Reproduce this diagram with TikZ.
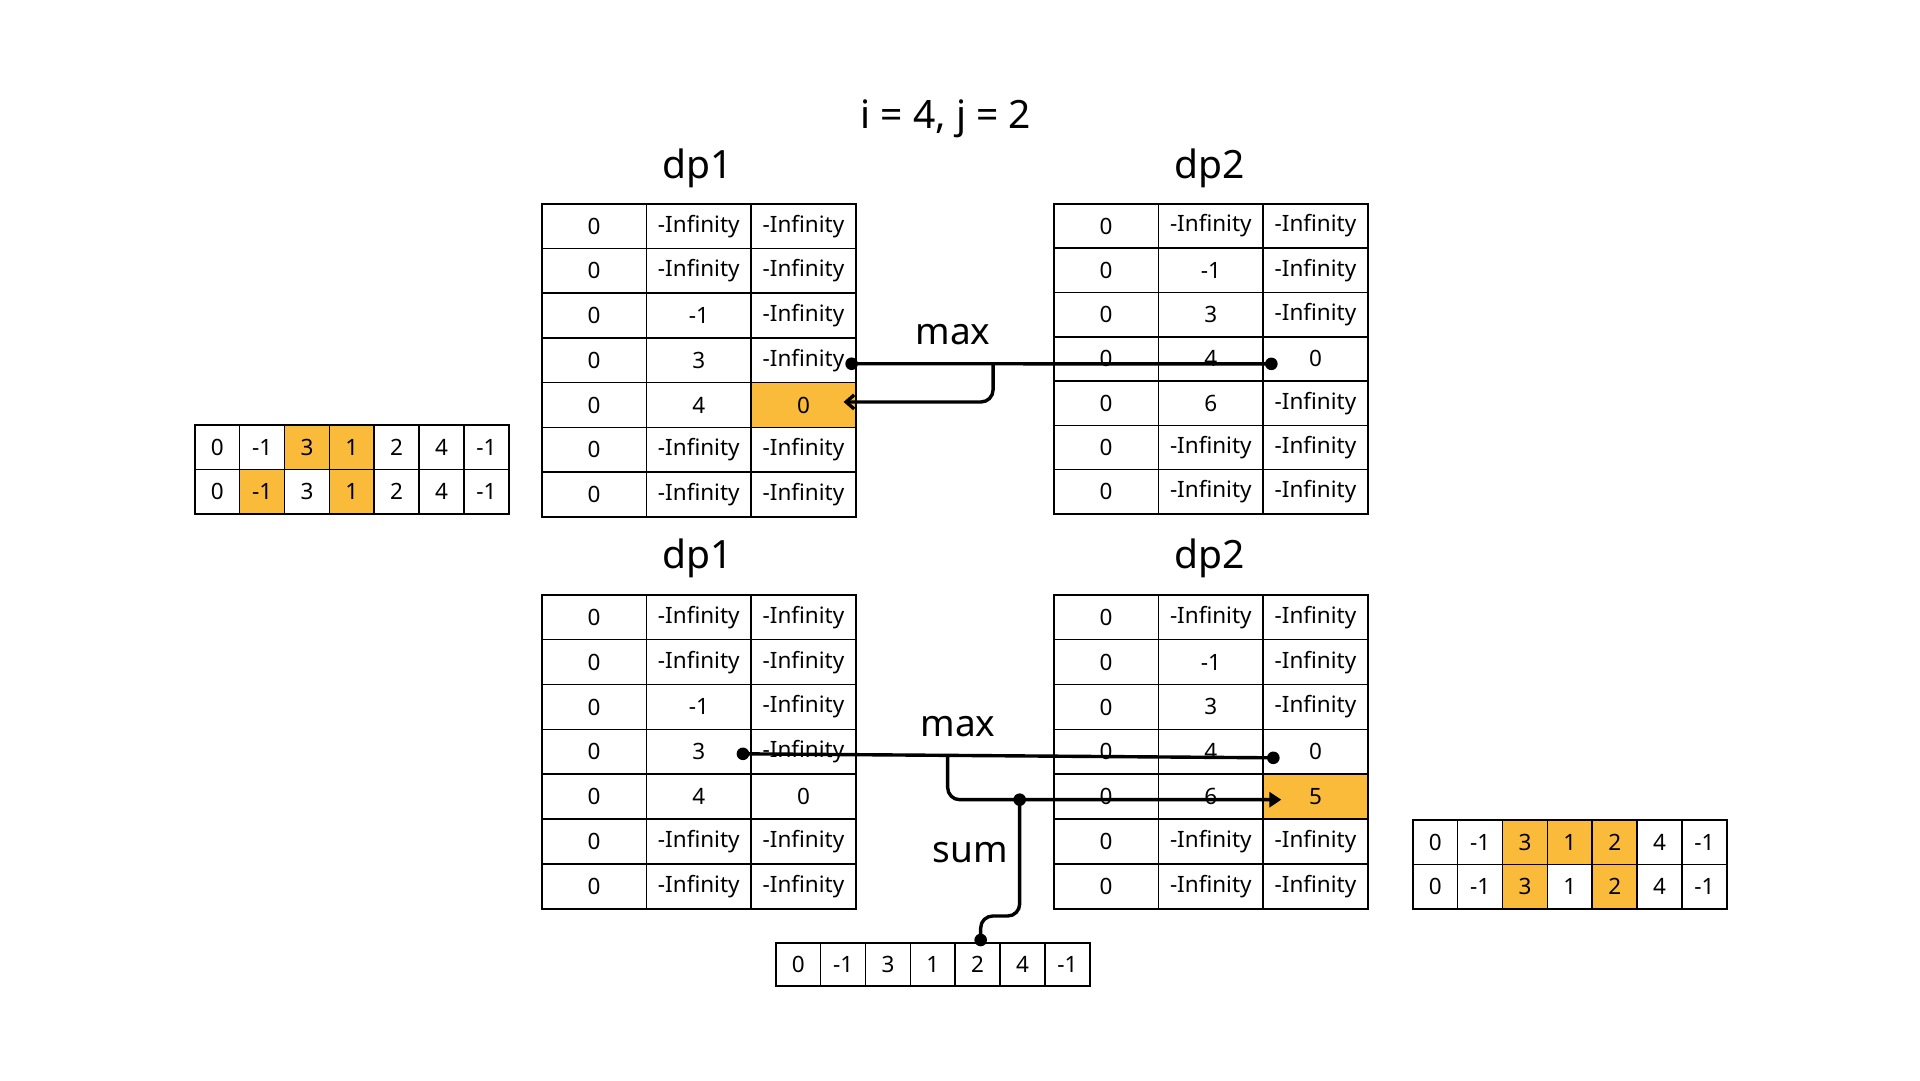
\documentclass[tikz,border=0pt]{standalone}
\usepackage{fontspec}
\setmainfont{Noto Sans}
\usetikzlibrary{arrows.meta,calc,backgrounds}
\definecolor{hl}{RGB}{251,187,58}
\tikzset{
  cell/.style={draw=black, line width=1.6pt, minimum width=104.67pt, inner sep=0pt, anchor=north west, font=\fontsize{22.5}{26}\selectfont},
  scell/.style={draw=black, line width=1.6pt, minimum width=44.86pt, inner sep=0pt, anchor=north west, font=\fontsize{22.5}{26}\selectfont},
  lbl/.style={inner sep=0pt, font=\fontsize{39}{46}\selectfont},
  opname/.style={inner sep=0pt, font=\fontsize{37}{44}\selectfont},
  conn/.style={line width=3.4pt, draw=black},
  dot/.style={fill=black},
}
\newcommand\dptable[5]{%
  \foreach \a/\b/\c [count=\r from 0] in {#5} {
    \node[cell, minimum height=#4] (#1-\r-0) at (#2, #3+\r*#4) {\a};
    \node[cell, minimum height=#4] (#1-\r-1) at (#2+104.67, #3+\r*#4) {\b};
    \node[cell, minimum height=#4] (#1-\r-2) at (#2+209.33, #3+\r*#4) {\c};
  }}
\newcommand\smallrow[5]{%
  \foreach \v [count=\k from 0] in {#5} {
    \node[scell, minimum height=#4] (#1-\k) at (#2+\k*44.86, #3) {\v};
  }}
\begin{document}
\begin{tikzpicture}[x=1pt, y=-1pt]
  \useasboundingbox (0,0) rectangle (1920,1080);

  % title and labels
  \node[lbl] (title) at (946,119) {i = 4, j = 2};
  \node[lbl] (L-dp1a) at (698,168) {dp1};
  \node[lbl] (L-dp2a) at (1210,168) {dp2};
  \node[lbl] (L-dp1b) at (698,558) {dp1};
  \node[lbl] (L-dp2b) at (1210,558) {dp2};

  % top tables
  \dptable{T1}{541}{203}{44.7}{0/-Infinity/-Infinity, 0/-Infinity/-Infinity, 0/-1/-Infinity, 0/3/-Infinity, 0/4/0, 0/-Infinity/-Infinity, 0/-Infinity/-Infinity}
  \dptable{U1}{1053}{203}{44.3}{0/-Infinity/-Infinity, 0/-1/-Infinity, 0/3/-Infinity, 0/4/0, 0/6/-Infinity, 0/-Infinity/-Infinity, 0/-Infinity/-Infinity}
  % bottom tables
  \dptable{B1}{541}{594}{44.86}{0/-Infinity/-Infinity, 0/-Infinity/-Infinity, 0/-1/-Infinity, 0/3/-Infinity, 0/4/0, 0/-Infinity/-Infinity, 0/-Infinity/-Infinity}
  \dptable{B2}{1053}{594}{44.86}{0/-Infinity/-Infinity, 0/-1/-Infinity, 0/3/-Infinity, 0/4/0, 0/6/5, 0/-Infinity/-Infinity, 0/-Infinity/-Infinity}

  % small arrays
  \smallrow{La}{194}{424}{44.5}{0,-1,3,1,2,4,-1}
  \smallrow{Lb}{194}{468.5}{44.5}{0,-1,3,1,2,4,-1}
  \smallrow{Ra}{1412}{819}{44.5}{0,-1,3,1,2,4,-1}
  \smallrow{Rb}{1412}{863.5}{44.5}{0,-1,3,1,2,4,-1}
  \smallrow{A}{775}{942}{43}{0,-1,3,1,2,4,-1}

  % background and highlights
  \begin{scope}[on background layer]
    \fill[white] (0,0) rectangle (1920,1080);
    \foreach \n in {T1-4-2, B2-4-2, La-2, La-3, Lb-1, Lb-3, Ra-2, Ra-3, Ra-4, Rb-2, Rb-4}
      \fill[hl] (\n.north west) rectangle (\n.south east);
  \end{scope}

  % top connectors (max)
  \coordinate (a1) at ($(T1-3-2.east)+(-5,3.5)$);
  \coordinate (a2) at ($(U1-3-2.west)+(9,5)$);
  \coordinate (b1) at ($(a1)!0.337!(a2)$);
  \coordinate (b2) at ($(T1-4-2.east)+(-13,-3)$);
  \draw[conn] (a1) -- (a2);
  \draw[conn, rounded corners=12pt, -{Straight Barb[length=8pt, width=14pt]}] (b1) |- (b2);
  \fill[dot] (a1) circle (6.3);
  \fill[dot] (a2) circle (6.3);
  \node[opname] (max1) at (953,335) {max};

  % bottom connectors (max, sum)
  \coordinate (c1) at ($(B1-3-1.east)+(-9,2)$);
  \coordinate (c2) at ($(B2-3-2.west)+(11,6)$);
  \coordinate (d1) at ($(c1)!0.386!(c2)$);
  \coordinate (d2) at ($(B2-4-2.west)+(19,3)$);
  \coordinate (e2) at ($(A-4.north)+(3,-2)$);
  \draw[conn] (c1) -- (c2);
  \draw[conn, rounded corners=12pt, -{Triangle[length=12pt, width=15pt]}] (d1) |- (d2);
  \coordinate (e1) at ($(d1 |- d2)+(72,0)$);
  \draw[conn, rounded corners=12pt] (e1) |- ($(e2)+(0,-24)$) -- (e2);
  \fill[dot] (c1) circle (6.3);
  \fill[dot] (c2) circle (6.3);
  \fill[dot] (e1) circle (6.3);
  \fill[dot] (e2) circle (6.3);
  \node[opname] (max2) at (958,727) {max};
  \node[opname] (sum) at (970,853) {sum};
\end{tikzpicture}
\end{document}
